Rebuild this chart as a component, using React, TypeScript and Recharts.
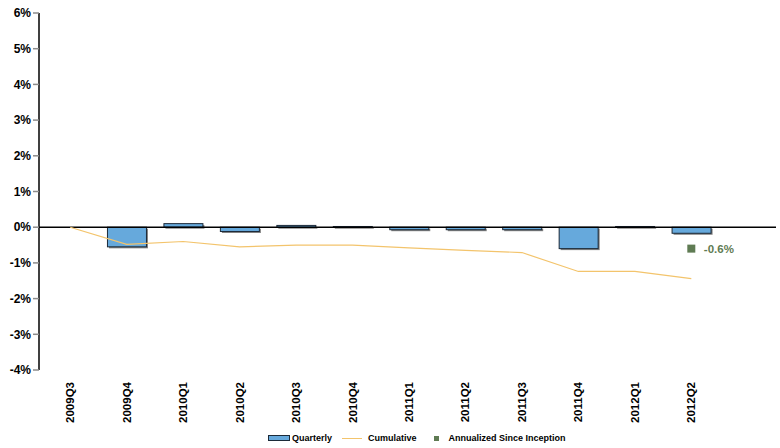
import React from "react";
import {
  ComposedChart,
  Bar,
  Line,
  Scatter,
  XAxis,
  YAxis,
  ReferenceLine,
  LabelList,
} from "recharts";

const quarters = [
  "2009Q3", "2009Q4", "2010Q1", "2010Q2", "2010Q3", "2010Q4",
  "2011Q1", "2011Q2", "2011Q3", "2011Q4", "2012Q1", "2012Q2", "",
];
const quarterly = [null, -0.55, 0.1, -0.12, 0.05, 0.02, -0.07, -0.07, -0.07, -0.6, 0.02, -0.17, null];
const cumulative = [0, -0.48, -0.4, -0.55, -0.5, -0.5, -0.58, -0.65, -0.71, -1.24, -1.24, -1.44, null];
const annualized = [null, null, null, null, null, null, null, null, null, null, null, -0.6, null];
const yTicks = [-4, -3, -2, -1, 0, 1, 2, 3, 4, 5, 6];

const data = quarters.map((q, i) => ({
  name: q,
  quarterly: quarterly[i],
  cumulative: cumulative[i],
  annualized: annualized[i],
}));

const FONT = "'Liberation Sans', Arial, sans-serif";
const BAR_FILL = "#66a9dc";
const LINE_COLOR = "#f3c46c";
const POINT_COLOR = "#5f7b53";

// bar with a thin grey drop shadow like the old spreadsheet style
const ShadowBar = (props: any) => {
  const { x, y, width, height } = props;
  if (width == null || height == null) return null;
  const top = height < 0 ? y + height : y;
  const h = Math.abs(height);
  return (
    <g>
      <rect x={x + 1.5} y={top + 1.5} width={width} height={h} fill="#808080" />
      <rect x={x} y={top} width={width} height={h} fill={BAR_FILL} stroke="#1c2a38" strokeWidth={1} />
    </g>
  );
};

const SquarePoint = (props: any) => {
  const { cx, cy } = props;
  if (cx == null || cy == null) return null;
  return <rect x={cx - 4} y={cy - 4} width={8} height={8} fill={POINT_COLOR} />;
};

const XTick = (props: any) => {
  const { x, y, payload } = props;
  return (
    <text
      x={x}
      y={y}
      transform={`rotate(-90, ${x}, ${y})`}
      textAnchor="end"
      dominantBaseline="central"
      fontFamily={FONT}
      fontSize={11.5}
      fontWeight="bold"
      fill="#000"
    >
      {payload.value}
    </text>
  );
};

export default function App() {
  return (
    <div style={{ position: "absolute", left: 0, top: 0, width: 780, height: 448 }}>
      <ComposedChart
        width={780}
        height={448}
        data={data}
        margin={{ top: 13, right: 4, left: 0, bottom: 18 }}
      >
        <XAxis
          dataKey="name"
          axisLine={false}
          tickLine={false}
          height={60}
          tickMargin={6}
          interval={0}
          padding={{ left: 3, right: 0 }}
          tick={<XTick />}
        />
        <YAxis
          domain={[-4, 6]}
          ticks={yTicks}
          width={39}
          interval={0}
          axisLine={{ stroke: "#000", strokeWidth: 1.5 }}
          tickLine={{ stroke: "#8c8c8c", strokeWidth: 1.5 }}
          tickSize={6}
          tickFormatter={(v: number) => `${v}%`}
          tick={{ fontFamily: FONT, fontSize: 12, fontWeight: "bold", fill: "#000" }}
        />
        <ReferenceLine y={0} stroke="#000" strokeWidth={1.5} />
        <Bar dataKey="quarterly" barSize={39} shape={<ShadowBar />} isAnimationActive={false} />
        <Line
          dataKey="cumulative"
          stroke={LINE_COLOR}
          strokeWidth={1.2}
          dot={false}
          type="linear"
          connectNulls={false}
          isAnimationActive={false}
        />
        <Scatter dataKey="annualized" shape={<SquarePoint />} isAnimationActive={false}>
          <LabelList
            dataKey="annualized"
            position="right"
            offset={8}
            formatter={(v: any) => (v == null ? "" : `${v}%`)}
            style={{ fontFamily: FONT, fontSize: 11.5, fontWeight: "bold", fill: POINT_COLOR }}
          />
        </Scatter>
      </ComposedChart>
      <div
        style={{
          position: "absolute",
          top: 433,
          left: 268,
          display: "flex",
          alignItems: "center",
          fontFamily: FONT,
          fontSize: 9,
          fontWeight: "bold",
          color: "#000",
          whiteSpace: "nowrap",
        }}
      >
        <span style={{ display: "inline-block", width: 20, height: 4, background: BAR_FILL, border: "1px solid #1c2a38", marginRight: 2 }} />
        <span>Quarterly</span>
        <span style={{ display: "inline-block", width: 20, height: 1, background: LINE_COLOR, marginLeft: 10, marginRight: 6 }} />
        <span>Cumulative</span>
        <span style={{ display: "inline-block", width: 5, height: 5, background: POINT_COLOR, marginLeft: 17, marginRight: 10 }} />
        <span>Annualized Since Inception</span>
      </div>
    </div>
  );
}
